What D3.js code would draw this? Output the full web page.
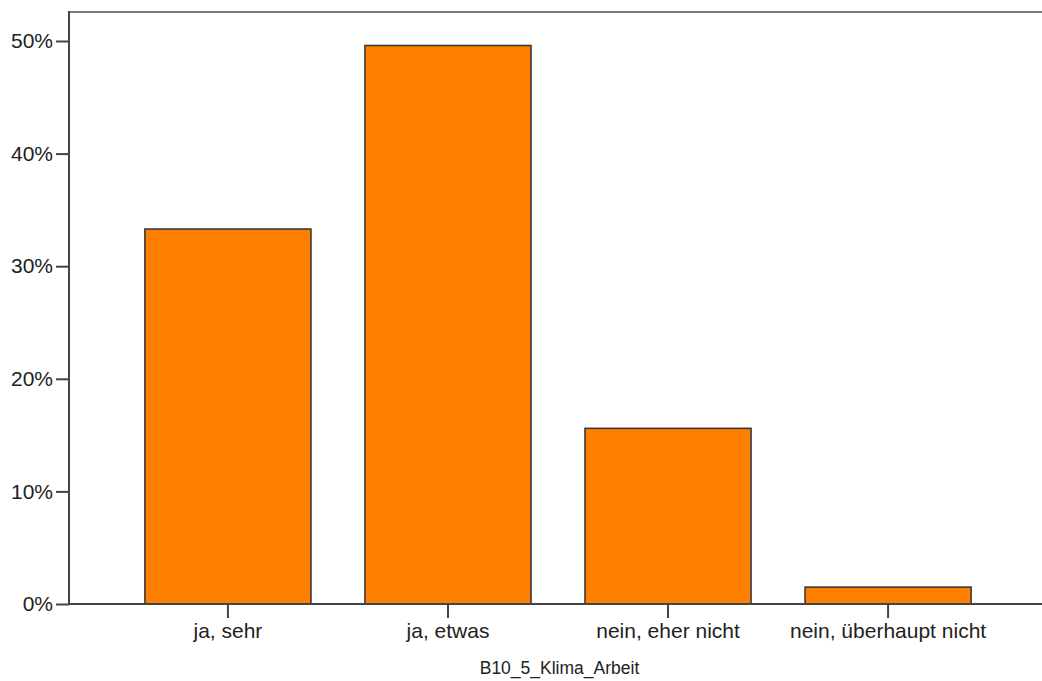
<!DOCTYPE html>
<html>
<head>
<meta charset="utf-8">
<script src="https://cdn.jsdelivr.net/npm/d3@7"></script>
<style>
  html, body { margin: 0; padding: 0; background: #fff; }
  svg { display: block; }
  text { font-family: "Liberation Sans", Arial, sans-serif; fill: #222; }
</style>
</head>
<body>
<svg id="chart" width="1042" height="681"></svg>
<script>
const categories = ["ja, sehr", "ja, etwas", "nein, eher nicht", "nein, überhaupt nicht"];
const values = [33.3, 49.6, 15.6, 1.5];
const yTicks = [0, 10, 20, 30, 40, 50];
const xTitle = "B10_5_Klima_Arbeit";

const W = 1042, H = 681;
const mLeft = 69, mTop = 12, mBottom = 604, mRight = 1047;

const svg = d3.select("#chart");

const x = d3.scaleBand().domain(categories).range([mLeft, mRight])
  .paddingInner(0.2455).paddingOuter(0.345);
const y = d3.scaleLinear().domain([0, 50]).range([mBottom, mBottom - 50 * 11.26]);

// bars
svg.append("g").selectAll("rect").data(values).join("rect")
  .attr("x", (d, i) => x(categories[i]))
  .attr("y", d => y(d))
  .attr("width", x.bandwidth())
  .attr("height", d => y(0) - y(d))
  .attr("fill", "#ff8000")
  .attr("stroke", "#3a3a3a")
  .attr("stroke-width", 1.6);

// top frame line
svg.append("line").attr("x1", mLeft).attr("x2", W).attr("y1", mTop).attr("y2", mTop)
  .attr("stroke", "#7a7a7a").attr("stroke-width", 2);

// y axis
const yAxis = d3.axisLeft(y).tickValues(yTicks).tickFormat(d => d + "%").tickSize(13).tickPadding(3);
const gy = svg.append("g").attr("transform", `translate(${mLeft},0)`).call(yAxis);
gy.select(".domain").remove();
gy.selectAll(".tick line").attr("stroke", "#444").attr("stroke-width", 2);
gy.selectAll(".tick text").attr("font-size", 21).attr("font-family", "Liberation Sans, Arial, sans-serif").attr("fill", "#222");
svg.append("line").attr("x1", mLeft).attr("x2", mLeft).attr("y1", mTop - 1).attr("y2", mBottom + 1)
  .attr("stroke", "#444").attr("stroke-width", 2);

// x axis
const xAxis = d3.axisBottom(x).tickSize(14).tickPadding(5);
const gx = svg.append("g").attr("transform", `translate(0,${mBottom})`).call(xAxis);
gx.select(".domain").remove();
gx.selectAll(".tick line").attr("stroke", "#444").attr("stroke-width", 2);
gx.selectAll(".tick text").attr("font-size", 21).attr("font-family", "Liberation Sans, Arial, sans-serif").attr("fill", "#222");
svg.append("line").attr("x1", mLeft - 1).attr("x2", W).attr("y1", mBottom).attr("y2", mBottom)
  .attr("stroke", "#444").attr("stroke-width", 2);

// x title
svg.append("text").attr("x", (mLeft + W) / 2 + 4).attr("y", 674)
  .attr("text-anchor", "middle").attr("font-size", 17.5)
  .attr("font-family", "Liberation Sans Narrow, Liberation Sans, Arial, sans-serif")
  .text(xTitle);
</script>
</body>
</html>
